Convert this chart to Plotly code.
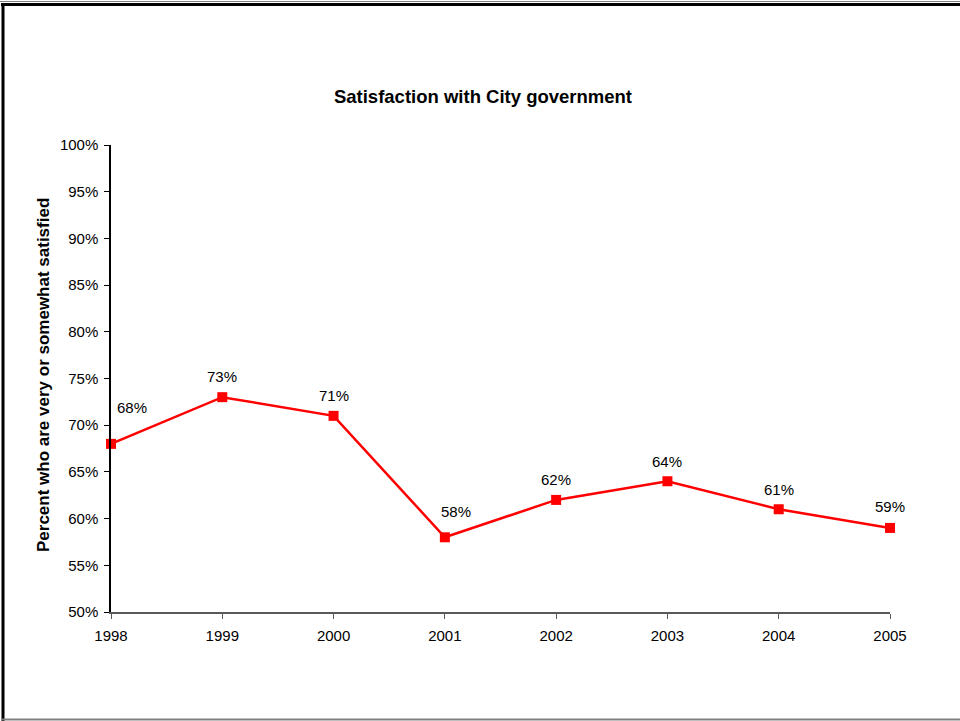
import plotly.graph_objects as go

years = [1998, 1999, 2000, 2001, 2002, 2003, 2004, 2005]
satisfied = [0.68, 0.73, 0.71, 0.58, 0.62, 0.64, 0.61, 0.59]
label_xshift = [21, 0, 0, 11, 0, 0, 0, 0]
label_yshift = [36, 21, 20, 26, 20, 20, 20, 21]

W, H = 960, 721
L, R, T, B = 111, 70, 145, 109
PW, PH = W - L - R, H - T - B


def px_x(px):
    return (px - L) / PW


def px_y(py):
    return (H - B - py) / PH


FONT = "Liberation Sans, Arial, sans-serif"

fig = go.Figure()
fig.add_trace(go.Scatter(
    x=years, y=satisfied, mode="lines+markers",
    line=dict(color="#FF0000", width=2.5),
    marker=dict(symbol="square", size=10, color="#FF0000"),
    cliponaxis=False, hoverinfo="skip", showlegend=False,
))

annotations = []
for yr, v, dx, dy in zip(years, satisfied, label_xshift, label_yshift):
    annotations.append(dict(
        x=yr, y=v, xref="x", yref="y", text=f"{round(v * 100)}%",
        showarrow=False, xshift=dx, yshift=dy,
        xanchor="center", yanchor="middle",
        font=dict(family=FONT, size=15, color="#000000"),
    ))

annotations.append(dict(
    x=px_x(43), y=px_y(375), xref="paper", yref="paper",
    xanchor="center", yanchor="middle",
    text="<b>Percent who are very or somewhat satisfied</b>",
    textangle=-90, showarrow=False,
    font=dict(family=FONT, size=17, color="#000000"),
))

shapes = [
    dict(type="line", xref="paper", yref="paper",
         x0=px_x(0), x1=px_x(960), y0=px_y(1.5), y1=px_y(1.5),
         line=dict(color="#808080", width=1)),
    dict(type="line", xref="paper", yref="paper",
         x0=px_x(1), x1=px_x(960), y0=px_y(4.5), y1=px_y(4.5),
         line=dict(color="#000000", width=3)),
    dict(type="line", xref="paper", yref="paper",
         x0=px_x(3), x1=px_x(3), y0=px_y(3), y1=px_y(721),
         line=dict(color="#000000", width=3)),
    dict(type="line", xref="paper", yref="paper",
         x0=px_x(1), x1=px_x(960), y0=px_y(719.5), y1=px_y(719.5),
         line=dict(color="#808080", width=2)),
]

fig.update_layout(
    width=W, height=H,
    margin=dict(l=L, r=R, t=T, b=B),
    paper_bgcolor="#FFFFFF", plot_bgcolor="#FFFFFF",
    title=dict(text="<b>Satisfaction with City government</b>",
               x=483 / W, xanchor="center", y=1 - 97 / H, yanchor="middle",
               font=dict(family=FONT, size=18.5, color="#000000")),
    xaxis=dict(range=[1998, 2005], tickmode="array", tickvals=years,
               ticktext=[str(y) for y in years],
               showgrid=False, zeroline=False, showline=True,
               linecolor="#595959", linewidth=1.5,
               ticks="outside", ticklen=5, tickcolor="#595959",
               ticklabelstandoff=4,
               tickfont=dict(family=FONT, size=15, color="#000000")),
    yaxis=dict(range=[0.5, 1.0], dtick=0.05, tick0=0.5, tickformat=".0%",
               showgrid=False, zeroline=False, showline=True,
               linecolor="#000000", linewidth=1.5,
               ticks="outside", ticklen=5, tickcolor="#000000",
               ticklabelstandoff=3,
               tickfont=dict(family=FONT, size=15, color="#000000")),
    annotations=annotations,
    shapes=shapes,
)

fig.write_html("out.html")
